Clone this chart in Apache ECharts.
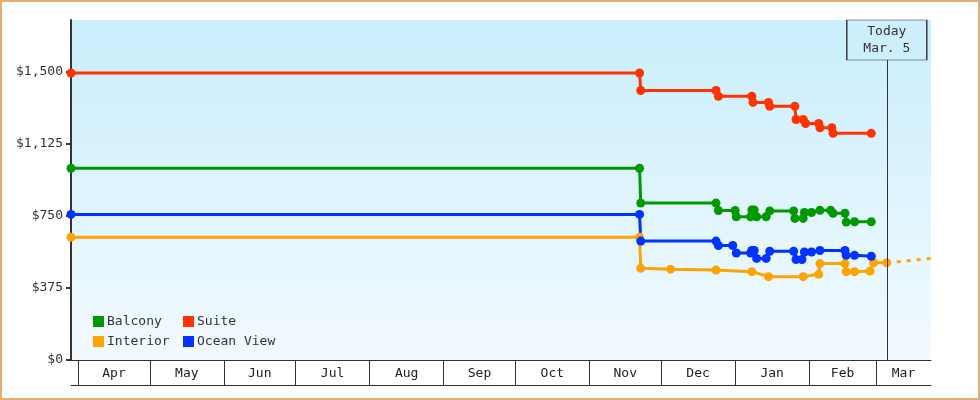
<!DOCTYPE html>
<html>
<head>
<meta charset="utf-8">
<title>Cabin prices</title>
<script src="https://cdn.jsdelivr.net/npm/echarts@6.0.0/dist/echarts.min.js"></script>
<style>
  html, body { margin: 0; padding: 0; background: #fff; }
  #wrap { position: relative; width: 980px; height: 400px; }
  #chart { width: 980px; height: 400px; }
  #frame { position: absolute; left: 0; top: 0; width: 980px; height: 400px; box-sizing: border-box; border: 2px solid #e6ae70; pointer-events: none; }
</style>
</head>
<body>
<div id="wrap"><div id="chart"></div><div id="frame"></div></div>
<script>
const months = ['Apr', 'May', 'Jun', 'Jul', 'Aug', 'Sep', 'Oct', 'Nov', 'Dec', 'Jan', 'Feb', 'Mar'];
const monthStarts = ['2022-04-01', '2022-05-01', '2022-06-01', '2022-07-01', '2022-08-01', '2022-09-01',
  '2022-10-01', '2022-11-01', '2022-12-01', '2023-01-01', '2023-02-01', '2023-03-01'];
const yTicks = [0, 375, 750, 1125, 1500];
const axisStart = '2022-03-29';
const axisEnd = '2023-03-24';
const today = '2023-03-05 12:00';
const todayText = 'Today\nMar. 5';

const balcony = [
  ['2022-03-29', 998], ['2022-11-22', 998], ['2022-11-22 12:00', 817], ['2022-12-24', 817],
  ['2022-12-25', 778], ['2023-01-01', 778], ['2023-01-01 12:00', 746], ['2023-01-07 12:00', 746],
  ['2023-01-08', 781], ['2023-01-09', 781], ['2023-01-10', 746], ['2023-01-14', 746],
  ['2023-01-15 12:00', 776], ['2023-01-25 12:00', 776], ['2023-01-26', 737], ['2023-01-29 12:00', 737],
  ['2023-01-30', 768], ['2023-02-02', 768], ['2023-02-05 12:00', 779], ['2023-02-10', 779],
  ['2023-02-11', 764], ['2023-02-16', 764], ['2023-02-16 12:00', 718], ['2023-02-20', 720],
  ['2023-02-27', 720]
];
const suite = [
  ['2022-03-29', 1494], ['2022-11-22', 1494], ['2022-11-22 12:00', 1403], ['2022-12-24', 1403],
  ['2022-12-25', 1373], ['2023-01-08', 1373], ['2023-01-08 12:00', 1341], ['2023-01-15', 1341],
  ['2023-01-15 12:00', 1321], ['2023-01-26', 1321], ['2023-01-26 12:00', 1252], ['2023-01-29 12:00', 1252],
  ['2023-01-30 12:00', 1231], ['2023-02-05', 1231], ['2023-02-05 12:00', 1209], ['2023-02-10 12:00', 1209],
  ['2023-02-11', 1180], ['2023-02-27', 1180]
];
const interior = [
  ['2022-03-29', 639], ['2022-11-22', 639], ['2022-11-22 12:00', 477], ['2022-12-05', 473],
  ['2022-12-24', 468], ['2023-01-08', 460], ['2023-01-15', 434], ['2023-01-29 12:00', 434],
  ['2023-02-05', 446], ['2023-02-05 12:00', 502], ['2023-02-16', 502], ['2023-02-16 12:00', 460],
  ['2023-02-20', 460], ['2023-02-26 12:00', 463], ['2023-02-28', 506], ['2023-03-05 12:00', 506]
];
const oceanView = [
  ['2022-03-29', 758], ['2022-11-22', 758], ['2022-11-22 12:00', 619], ['2022-12-24', 619],
  ['2022-12-25', 596], ['2022-12-31', 596], ['2023-01-01 12:00', 557], ['2023-01-07 12:00', 557],
  ['2023-01-08', 570], ['2023-01-09', 570], ['2023-01-10', 529], ['2023-01-14', 529],
  ['2023-01-15 12:00', 566], ['2023-01-25 12:00', 566], ['2023-01-26 12:00', 523], ['2023-01-29', 523],
  ['2023-01-30', 562], ['2023-02-02', 562], ['2023-02-05 12:00', 570], ['2023-02-16', 570],
  ['2023-02-16 12:00', 545], ['2023-02-20', 545], ['2023-02-27', 540]
];
const interiorForecast = [['2023-03-05 12:00', 506], ['2023-03-24', 529]];

const FONT = '"DejaVu Sans Mono", "Liberation Mono", monospace';
const parse = s => +echarts.time.parse(s);
const toPoints = rows => rows.map(r => [parse(r[0]), r[1]]);
const startTs = parse(axisStart);
const endTs = parse(axisEnd);
const todayTs = parse(today);
const tickTs = monthStarts.map(parse);
// labels sit halfway between month boundaries (last one runs to the axis end)
const labelTs = tickTs.map((t, i) => (t + (i < tickTs.length - 1 ? tickTs[i + 1] : endTs)) / 2);

function priceLine (name, color, data) {
  return {
    name: name,
    type: 'line',
    data: toPoints(data),
    symbol: 'circle',
    symbolSize: 9,
    lineStyle: { width: 3, color: color },
    itemStyle: { color: color },
    emphasis: { disabled: true }
  };
}

const legendBase = {
  orient: 'vertical',
  top: 310,
  itemWidth: 11,
  itemHeight: 11,
  itemGap: 7,
  icon: 'rect',
  selectedMode: false,
  textStyle: { fontFamily: FONT, fontSize: 13, color: '#333', padding: [0, 0, 0, -2] }
};

const chart = echarts.init(document.getElementById('chart'));
chart.setOption({
  animation: false,
  backgroundColor: '#fff',
  grid: {
    left: 71, right: 49, top: 20, bottom: 40,
    show: true,
    borderWidth: 0,
    outerBoundsMode: 'none',
    backgroundColor: new echarts.graphic.LinearGradient(0, 0, 0, 1, [
      { offset: 0, color: '#c9eefc' },
      { offset: 1, color: '#f3faff' }
    ])
  },
  legend: [
    Object.assign({ left: 88, data: ['Balcony', 'Interior'] }, legendBase),
    Object.assign({ left: 178, data: ['Suite', 'Ocean View'] }, legendBase)
  ],
  xAxis: [
    {
      type: 'value',
      min: startTs,
      max: endTs,
      axisLine: { lineStyle: { color: '#333', width: 1 } },
      axisTick: { show: true, length: 25, customValues: tickTs, lineStyle: { color: '#333', width: 1 } },
      axisLabel: {
        customValues: labelTs,
        margin: 7,
        color: '#222',
        fontFamily: FONT,
        fontSize: 13,
        formatter: function (v) {
          let best = 0;
          labelTs.forEach((t, i) => { if (Math.abs(t - v) < Math.abs(labelTs[best] - v)) best = i; });
          return months[best];
        }
      },
      splitLine: { show: false }
    },
    {
      type: 'value',
      min: startTs,
      max: endTs,
      position: 'bottom',
      offset: 25,
      axisLine: { lineStyle: { color: '#333', width: 1 } },
      axisTick: { show: false },
      axisLabel: { show: false },
      splitLine: { show: false }
    }
  ],
  yAxis: {
    type: 'value',
    min: 0,
    max: 1770,
    interval: 375,
    axisLine: { show: true, lineStyle: { color: '#333', width: 2 } },
    axisTick: { show: true, length: 5, customValues: yTicks, lineStyle: { color: '#333', width: 2 } },
    axisLabel: {
      customValues: yTicks,
      margin: 8,
      color: '#333',
      fontFamily: FONT,
      fontSize: 13,
      formatter: v => '$' + v.toLocaleString('en-US')
    },
    splitLine: { show: false }
  },
  series: [
    priceLine('Interior', '#ffa300', interior),
    priceLine('Balcony', '#009a00', balcony),
    priceLine('Suite', '#ff3300', suite),
    priceLine('Ocean View', '#0033ff', oceanView),
    {
      name: 'Interior forecast',
      type: 'line',
      data: toPoints(interiorForecast),
      symbol: 'none',
      lineStyle: { width: 3, color: '#ffa300', type: [4, 6] },
      emphasis: { disabled: true },
      markLine: {
        silent: true,
        symbol: ['none', 'none'],
        label: { show: false },
        lineStyle: { color: '#333', width: 1, type: 'solid' },
        data: [{ xAxis: todayTs }]
      },
      markPoint: {
        silent: true,
        z: 10,
        data: [{
          coord: [todayTs, 1770],
          symbol: 'rect',
          symbolSize: [80, 40],
          symbolOffset: [0, 20],
          itemStyle: { color: '#cdeffc', borderColor: '#333', borderWidth: 1 },
          label: {
            show: true,
            position: 'inside',
            formatter: todayText,
            fontFamily: FONT,
            fontSize: 13,
            lineHeight: 17,
            color: '#333'
          }
        }]
      }
    }
  ]
});
</script>
</body>
</html>
